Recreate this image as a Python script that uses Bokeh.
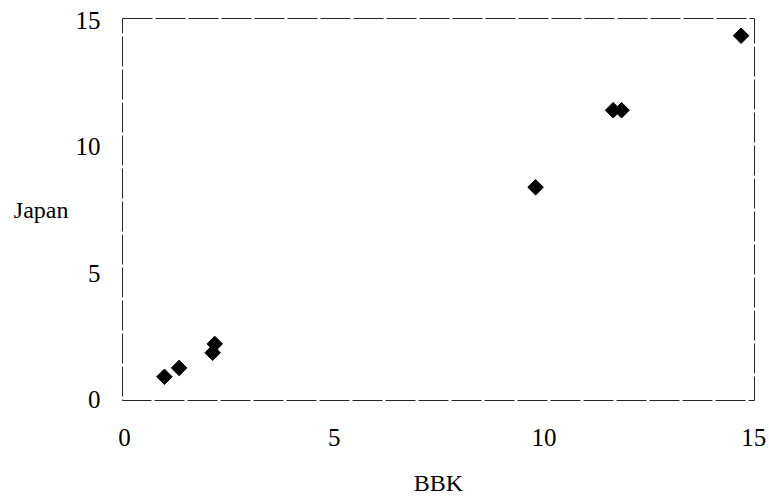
import math
from bokeh.plotting import figure
from bokeh.models import ColumnDataSource, FixedTicker, Range1d
from bokeh.embed import file_html
from bokeh.resources import INLINE

# Paired observations: BBK forecast vs Japan value
bbk = [0.95, 1.3, 2.1, 2.15, 9.8, 11.65, 11.85, 14.7]
japan = [0.9, 1.25, 1.85, 2.2, 8.4, 11.45, 11.45, 14.4]
ticks = [0, 5, 10, 15]

src = ColumnDataSource(data=dict(x=bbk, y=japan))

p = figure(width=769, height=504, output_backend="svg", toolbar_location=None,
           x_range=Range1d(-0.05, 15.02), y_range=Range1d(-0.04, 15.08),
           min_border_left=122, min_border_right=15, min_border_top=18,
           min_border_bottom=104)

p.scatter("x", "y", source=src, marker="square", angle=math.pi / 4, size=11,
          fill_color="black", line_color="black")

FONT = "Liberation Serif"
for ax in (p.xaxis[0], p.yaxis[0]):
    ax.ticker = FixedTicker(ticks=ticks)
    ax.axis_line_color = None
    ax.major_tick_line_color = None
    ax.minor_tick_line_color = None
    ax.major_label_text_font = FONT
    ax.major_label_text_font_size = "25px"
    ax.major_label_text_color = "black"
    ax.axis_label_text_font = FONT
    ax.axis_label_text_font_size = "24px"
    ax.axis_label_text_font_style = "normal"
    ax.axis_label_text_color = "black"

p.xaxis.axis_label = "BBK"
p.xaxis.major_label_standoff = 22
p.xaxis.axis_label_standoff = 21

p.yaxis.axis_label = "Japan"
p.yaxis.axis_label_orientation = "horizontal"
p.yaxis.major_label_standoff = 16
p.yaxis.axis_label_standoff = 4

p.xgrid.grid_line_color = None
p.ygrid.grid_line_color = None

p.outline_line_color = "black"
p.outline_line_width = 1
p.outline_line_alpha = 0.85
p.outline_line_dash = "30 3"

p.background_fill_color = "white"
p.border_fill_color = "white"

open("out.html", "w").write(file_html(p, INLINE))
